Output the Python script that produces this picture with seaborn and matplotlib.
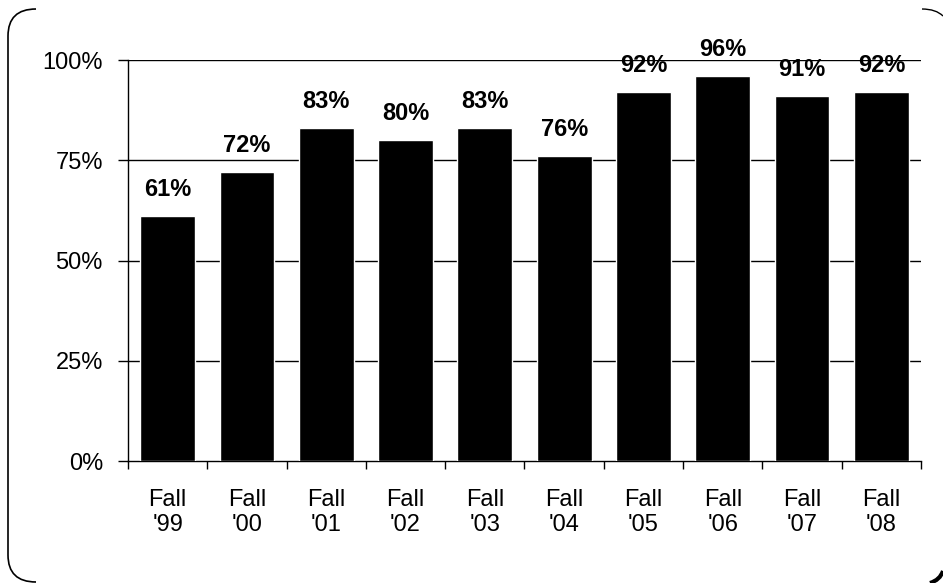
import numpy as np
import pandas as pd
import matplotlib
matplotlib.use("Agg")
import matplotlib.pyplot as plt
import seaborn as sns
from matplotlib.lines import Line2D
from matplotlib.path import Path
from matplotlib.patches import PathPatch
from matplotlib.ticker import FixedLocator

# data
terms = ["Fall\n'99", "Fall\n'00", "Fall\n'01", "Fall\n'02", "Fall\n'03",
         "Fall\n'04", "Fall\n'05", "Fall\n'06", "Fall\n'07", "Fall\n'08"]
pct = [61, 72, 83, 80, 83, 76, 92, 96, 91, 92]
yticks = [0, 25, 50, 75, 100]

df = pd.DataFrame({"term": terms, "pct": pct})

sns.set_style("white")
plt.rcParams["font.family"] = ["Liberation Sans", "DejaVu Sans"]
plt.rcParams["text.color"] = "black"
plt.rcParams["xtick.color"] = "black"
plt.rcParams["ytick.color"] = "black"

fig = plt.figure(figsize=(9.43, 5.83), dpi=100)
ax = fig.add_axes([0.1357, 0.209, 0.841, 0.688])

sns.barplot(data=df, x="term", y="pct", color="black", width=0.69,
            saturation=1, ax=ax, zorder=3)

for c in ax.containers:
    ax.bar_label(c, labels=[f"{v}%" for v in pct], padding=11,
                 fontsize=17, fontweight="bold", color="black")

ax.set_ylim(0, 100)
ax.set_xlim(-0.5, len(terms) - 0.5)
ax.set_yticks(yticks)
ax.set_yticklabels([f"{t}%" for t in yticks], fontsize=17)
ax.set_xlabel("")
ax.set_ylabel("")
ax.tick_params(axis="x", which="major", length=0, labelsize=17, pad=20)
ax.xaxis.set_minor_locator(FixedLocator(np.arange(-0.5, len(terms), 1)))
ax.tick_params(axis="x", which="minor", length=6, width=1, color="black",
               direction="out", bottom=True)
ax.tick_params(axis="y", length=7, width=1, color="black", direction="out",
               left=True, pad=11)
for t in yticks[1:]:
    ax.axhline(t, color="black", lw=1, zorder=1)

for s in ["top", "right"]:
    ax.spines[s].set_visible(False)
for s in ["left", "bottom"]:
    ax.spines[s].set_color("black")
    ax.spines[s].set_linewidth(1)

# partial rounded frame around the picture (pixel coords, y from top)
W, H = 943, 583
def px(x, y):
    return (x / W, 1 - y / H)

left_edge = Path([px(36, 9), px(8, 9), px(8, 36), px(8, 555), px(8, 582), px(36, 582)],
                 [Path.MOVETO, Path.CURVE3, Path.CURVE3, Path.LINETO, Path.CURVE3, Path.CURVE3])
fig.patches.append(PathPatch(left_edge, transform=fig.transFigure, fill=False,
                             edgecolor="black", lw=1.2))
top_right = Path([px(922, 9), px(936, 9), px(943, 16)],
                 [Path.MOVETO, Path.CURVE3, Path.CURVE3])
fig.patches.append(PathPatch(top_right, transform=fig.transFigure, fill=False,
                             edgecolor="black", lw=1.0))
bot_right = Path([px(943, 571), px(940, 580), px(930, 583)],
                 [Path.MOVETO, Path.CURVE3, Path.CURVE3])
fig.patches.append(PathPatch(bot_right, transform=fig.transFigure, fill=False,
                             edgecolor="black", lw=3))

fig.savefig("out.png", dpi=100)
